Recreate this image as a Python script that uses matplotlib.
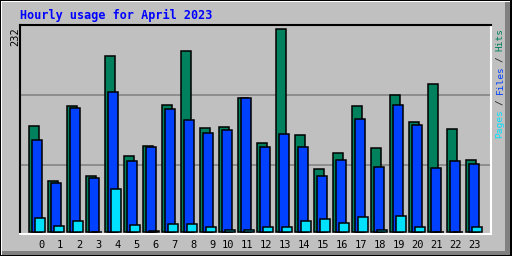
import matplotlib
matplotlib.use('Agg')
import matplotlib.pyplot as plt
from matplotlib.patches import Rectangle

hours = list(range(24))
hits = [122, 59, 144, 64, 201, 87, 99, 146, 207, 119, 120, 154,
        102, 232, 111, 72, 91, 144, 96, 157, 126, 169, 118, 83]
files = [105, 56, 142, 62, 160, 82, 98, 141, 128, 113, 117, 153,
         97, 112, 98, 64, 83, 130, 75, 145, 123, 73, 82, 78]
pages = [16, 7, 13, 0, 49, 8, 2, 9, 10, 6, 3, 3,
         6, 6, 13, 15, 11, 18, 3, 19, 6, 0, 0, 6]
ymax = 232
title = "Hourly usage for April 2023"

W, H = 512, 256
BG = '#C0C0C0'
C_HITS = '#00805C'
C_FILES = '#0040FF'
C_PAGES = '#00E0FF'


def fx(x):
    return x / W


def fy(y):
    return 1 - y / H


fig = plt.figure(figsize=(W / 100, H / 100), dpi=100, facecolor=BG)


# outer bevel
def rect(x, y, w, h, c):
    fig.add_artist(Rectangle((fx(x), fy(y + h)), w / W, h / H, facecolor=c,
                             edgecolor='none', transform=fig.transFigure))


rect(0, 0, W, 1, 'black')
rect(0, 0, 1, H, 'black')
rect(1, 1, W - 2, 1, 'white')
rect(1, 1, 1, H - 2, 'white')
rect(2, H - 5, W - 3, 4, '#808080')
rect(W - 7, 2, 5, H - 3, '#808080')
rect(0, H - 1, W, 1, 'black')
rect(W - 2, 0, 2, H, 'black')

ax = fig.add_axes([fx(20), fy(234), (491 - 20) / W, (234 - 25) / H])
ax.set_facecolor(BG)

unit = 19.0  # px per hour
bw = 10 / unit
ax.bar(hours, hits, width=bw, align='edge', color=C_HITS,
       edgecolor='black', linewidth=1.1, zorder=3)
ax.bar([h + 3 / unit for h in hours], files, width=bw, align='edge', color=C_FILES,
       edgecolor='black', linewidth=1.1, zorder=4)
ax.bar([h + 6 / unit for h in hours], pages, width=bw, align='edge', color=C_PAGES,
       edgecolor='black', linewidth=1.1, zorder=5)

ax.set_xlim(-9.3 / unit, (491 - 29.3) / unit)
ppv = 203.0 / ymax  # px per value
ax.set_ylim(-1.7 / ppv, ymax + 4.3 / ppv)

# grid lines sit at fixed pixel rows (95 / 165)
for gy in [95.3, 165.3]:
    ax.axhline((232.3 - gy) / ppv, color='#808080', linewidth=1.1, zorder=1)

ticks = [h + (0.62 if h < 10 else 0.44) for h in hours]
ax.set_xticks(ticks)
ax.set_xticklabels([str(h) for h in hours], family='DejaVu Sans Mono',
                   fontsize=7.5)
ax.set_yticks([])
ax.tick_params(axis='x', length=0, pad=4)

ax.spines['top'].set_color('black')
ax.spines['left'].set_color('black')
ax.spines['bottom'].set_color('white')
ax.spines['right'].set_color('white')
for s in ax.spines.values():
    s.set_linewidth(1.5)

fig.text(fx(20), fy(15), title, color='#0000FF', family='DejaVu Sans Mono',
         fontweight='bold', fontsize=8.5, ha='left', va='center')

fig.text(fx(15.5), fy(27), str(ymax), rotation=90, family='DejaVu Sans Mono',
         fontsize=7.5, ha='center', va='top', color='black')

legend = "Pages / Files / Hits"
parts = [("Pages", C_PAGES), ("/", '#202020'), ("Files", C_FILES),
         ("/", '#202020'), ("Hits", C_HITS)]
step = 109.0 / len(legend)
pos = 0
for word, c in parts:
    i = legend.index(word, pos)
    pos = i + len(word)
    fig.text(fx(500), fy(138 - i * step), word, rotation=90, rotation_mode='anchor',
             family='DejaVu Sans Mono', fontsize=6.8, ha='left',
             va='center', color=c)

fig.savefig('out.png', dpi=100, facecolor=BG)
